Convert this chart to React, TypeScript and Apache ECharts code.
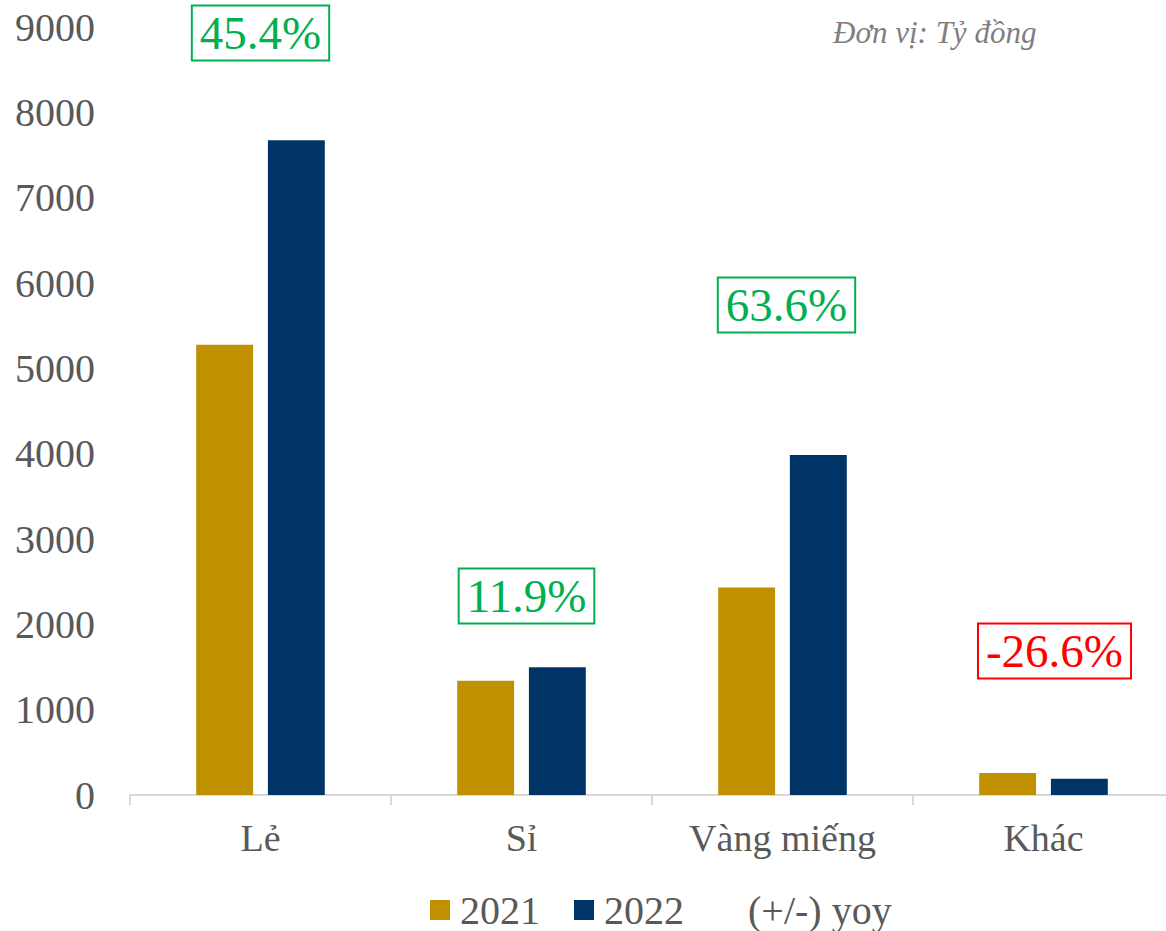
import React, { useEffect, useRef } from "react";
import * as echarts from "echarts";

const categories = ["Lẻ", "Sỉ", "Vàng miếng", "Khác"];
const values2021 = [5277, 1338, 2432, 258];
const values2022 = [7673, 1497, 3984, 189];
const yoyLabels = ["45.4%", "11.9%", "63.6%", "-26.6%"];
const yoyPositive = [true, true, true, false];
// vertical anchor of each yoy box, in y-axis units
const yoyAnchor = [8930, 2332, 5742, 1688];
const yTicks = { min: 0, max: 9000, interval: 1000 };

const FONT = "'Liberation Serif', 'DejaVu Serif', serif";
const labelShiftX = [0, 5, 4, 11];

export default function App() {
  const ref = useRef<HTMLDivElement>(null);
  useEffect(() => {
    if (!ref.current) return;
    const chart = echarts.init(ref.current, undefined, { renderer: "svg" });
    const yoyData = categories.map((c, i) => {
      const col = yoyPositive[i] ? "#00B050" : "#FF0000";
      return {
        value: [c, yoyAnchor[i]],
        label: {
          show: true,
          position: "inside",
          offset: [labelShiftX[i], 0],
          formatter: yoyLabels[i],
          color: col,
          opacity: 1,
          borderColor: col,
          borderWidth: 2,
          padding: [5, 8, 3, 8],
          fontSize: 47,
          fontFamily: FONT,
        },
      };
    });
    chart.setOption({
      animation: false,
      textStyle: { fontFamily: FONT },
      grid: { left: 130, right: 6, top: 27, bottom: 136 },
      graphic: [
        {
          type: "text",
          left: 833,
          top: 17,
          style: {
            text: "Đơn vị: Tỷ đồng",
            font: `italic 31px ${FONT}`,
            fill: "#7F7F7F",
          },
        },
      ],
      legend: {
        top: 885,
        left: 425,
        itemWidth: 20,
        itemHeight: 20,
        itemGap: 34,
        textStyle: {
          fontSize: 40,
          color: "#595959",
          fontFamily: FONT,
          padding: [0, 0, 0, 5],
        },
        data: [
          { name: "2021", icon: "rect" },
          { name: "2022", icon: "rect" },
          { name: "(+/-) yoy", icon: "rect", itemStyle: { color: "rgba(0,0,0,0)" } },
        ],
      },
      xAxis: {
        type: "category",
        data: categories,
        axisLine: { lineStyle: { color: "#D9D9D9", width: 2 } },
        axisTick: { show: true, length: 10, lineStyle: { color: "#D9D9D9", width: 2 } },
        axisLabel: { color: "#595959", fontSize: 38, margin: 24, fontFamily: FONT },
      },
      yAxis: {
        type: "value",
        min: yTicks.min,
        max: yTicks.max,
        interval: yTicks.interval,
        splitLine: { show: false },
        axisLine: { show: false },
        axisTick: { show: false },
        axisLabel: {
          color: "#595959",
          fontSize: 40,
          margin: 35,
          fontFamily: FONT,
          formatter: (v: number) => String(v),
        },
      },
      series: [
        {
          name: "2021",
          type: "bar",
          data: values2021,
          barWidth: "21.8%",
          barGap: "26%",
          itemStyle: { color: "#BF9000" },
        },
        {
          name: "2022",
          type: "bar",
          data: values2022,
          barWidth: "21.8%",
          barGap: "26%",
          itemStyle: { color: "#003366" },
        },
        {
          name: "(+/-) yoy",
          type: "scatter",
          symbolSize: 1,
          itemStyle: { color: "rgba(0,0,0,0)" },
          emphasis: { disabled: true },
          data: yoyData,
          z: 10,
        },
      ],
    });
    return () => chart.dispose();
  }, []);
  return (
    <div
      style={{
        position: "absolute",
        left: 0,
        top: 0,
        width: 1166,
        height: 931,
        overflow: "hidden",
        background: "#fff",
      }}
    >
      <div ref={ref} style={{ width: 1180, height: 931 }} />
    </div>
  );
}
